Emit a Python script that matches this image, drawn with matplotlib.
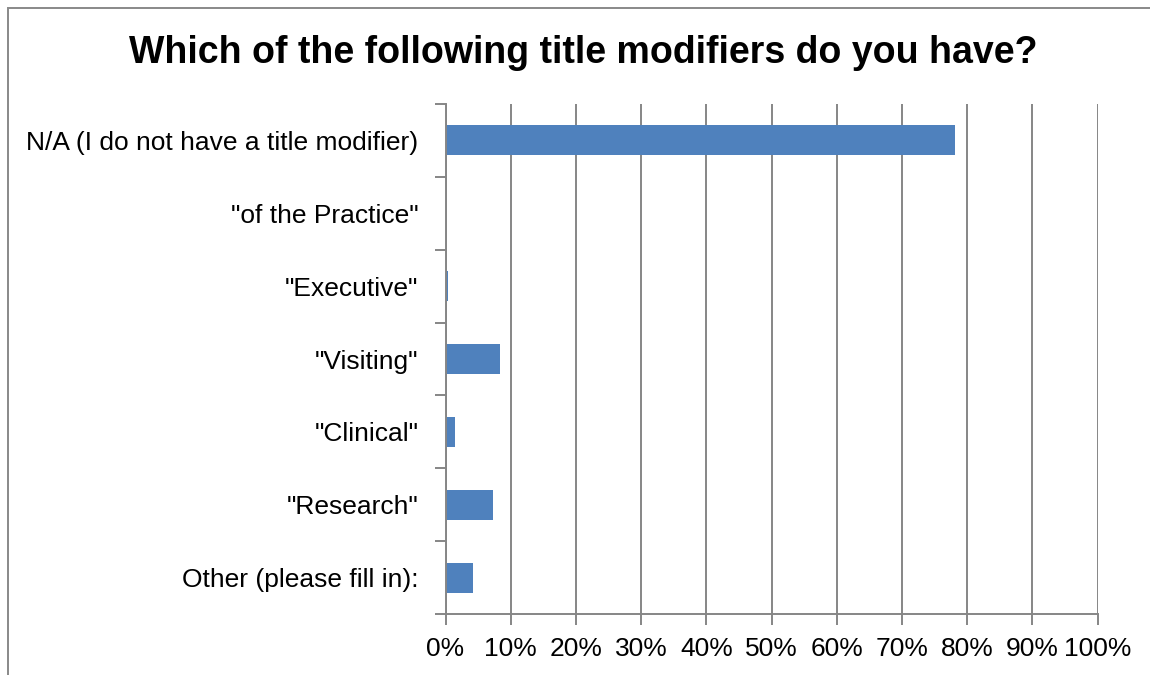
import matplotlib
matplotlib.use("Agg")
import matplotlib.pyplot as plt
from matplotlib.patches import Rectangle
from matplotlib.ticker import FixedLocator, FuncFormatter

# Survey responses (percent of respondents), listed top to bottom
categories = [
    "N/A (I do not have a title modifier)",
    "\"of the Practice\"",
    "\"Executive\"",
    "\"Visiting\"",
    "\"Clinical\"",
    "\"Research\"",
    "Other (please fill in):",
]
percentages = [78.1, 0.0, 0.4, 8.4, 1.5, 7.3, 4.2]
x_ticks = [0, 10, 20, 30, 40, 50, 60, 70, 80, 90, 100]
title = "Which of the following title modifiers do you have?"

plt.rcParams["font.family"] = ["Liberation Sans", "DejaVu Sans"]

GRID = "#868686"
BAR = "#4F81BD"

fig = plt.figure(figsize=(11.5, 6.75), dpi=100)
ax = fig.add_axes([445.5 / 1150, 1 - 614 / 675, 652 / 1150, 510 / 675])

n = len(categories)
positions = list(range(n))
ax.barh(positions, percentages, height=0.41, color=BAR, zorder=3)

ax.set_xlim(0, 100)
ax.set_ylim(n - 0.5, -0.5)

# x axis: percent ticks with vertical gridlines
ax.xaxis.set_major_locator(FixedLocator(x_ticks))
ax.xaxis.set_major_formatter(FuncFormatter(lambda v, p: f"{v:.0f}%"))
ax.tick_params(axis="x", length=8, width=1.4, color=GRID, labelsize=19,
               pad=8.5, labelcolor="black")
ax.grid(axis="x", color=GRID, linewidth=1.4, zorder=0)

# y axis: tick marks between categories, labels centred on bars
boundaries = [i - 0.5 for i in range(n + 1)]
ax.yaxis.set_major_locator(FixedLocator(boundaries))
ax.yaxis.set_major_formatter(FuncFormatter(lambda v, p: ""))
ax.yaxis.set_minor_locator(FixedLocator(positions))
ax.set_yticklabels(categories, minor=True)
ax.tick_params(axis="y", which="major", length=8, width=1.4, color=GRID)
ax.tick_params(axis="y", which="minor", length=0, labelsize=19, pad=19.5)

for side in ("top", "right"):
    ax.spines[side].set_visible(False)
for side in ("left", "bottom"):
    ax.spines[side].set_color(GRID)
    ax.spines[side].set_linewidth(1.4)
    ax.spines[side].set_zorder(4)

fig.text(583 / 1150, 1 - 63 / 675, title, ha="center", va="baseline",
         fontsize=27, fontweight="bold")

# chart frame
fig.patches.append(Rectangle((8 / 1150, -0.2), 2.0, 1.2 - 7.5 / 675,
                             transform=fig.transFigure, fill=False,
                             edgecolor="#898989", linewidth=1.4))

fig.savefig("out.png", dpi=100)
